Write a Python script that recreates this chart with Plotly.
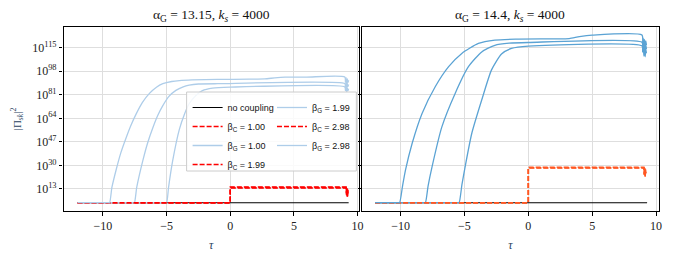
import plotly.graph_objects as go

# ---------------- data (tau, log10 |Pi_sk|^2) ----------------
tau_nc = [-12.0, 9.3]
lg_nc = [3.0, 3.0]

# left panel: alpha_G = 13.15
tauC_L = [-12.0, 0.0, 0.0, 9.1, 9.14, 9.17, 9.2, 9.23, 9.25]
lgC_L_100 = [3.0, 3.0, 13.6, 13.6, 9.0, 12.5, 7.5, 11.0, 9.0]
lgC_L_199 = [3.0, 3.0, 14.0, 14.0, 8.5, 13.0, 8.0, 12.0, 9.5]
lgC_L_298 = [3.0, 3.0, 14.4, 14.4, 10.0, 13.5, 7.4, 12.5, 10.0]

tauG_L_100 = [-12.0, -5.1, -5.0, -4.85, -4.53, -4.0, -3.6, -3.23, -2.7, -2.19, -1.4, 0.0, 9.0,
              9.05, 9.1, 9.15, 9.2, 9.25, 9.3]
lgG_L_100 = [3.0, 3.0, 3.0, 14.0, 33.0, 56.0, 67.0, 74.5, 80.5, 84.0, 85.8, 86.5, 86.7,
             84.0, 86.5, 83.0, 86.0, 84.0, 85.5]
tauG_L_199 = [-12.0, -7.63, -7.53, -7.35, -6.88, -6.5, -6.09, -5.7, -5.31, -4.8, -4.27, -3.7, -3.23,
              -2.5, -1.0, 9.0, 9.05, 9.1, 9.15, 9.2, 9.25, 9.3]
lgG_L_199 = [3.0, 3.0, 3.0, 14.0, 33.0, 46.0, 57.0, 66.0, 73.0, 80.0, 84.2, 86.8, 88.0,
             88.8, 89.0, 89.1, 87.0, 89.3, 86.0, 89.0, 87.0, 88.5]
tauG_L_298 = [-12.0, -9.58, -9.48, -9.3, -8.96, -8.6, -8.18, -7.8, -7.4, -6.9, -6.35, -5.8, -5.3,
              -4.6, -4.0, -3.0, -1.0, 1.5, 2.7, 3.5, 4.3, 6.0, 9.0,
              9.05, 9.1, 9.15, 9.2, 9.25, 9.3]
lgG_L_298 = [3.0, 3.0, 3.0, 14.0, 27.0, 39.0, 50.0, 59.0, 67.0, 75.5, 82.0, 86.5, 89.0,
             90.6, 91.3, 91.8, 92.1, 92.3, 92.5, 93.2, 93.7, 93.8, 93.8,
             90.0, 93.3, 88.0, 92.5, 90.0, 91.5]

# right panel: alpha_G = 14.4
tauC_R = [-12.0, 0.0, 0.0, 9.05, 9.08, 9.12, 9.15, 9.18, 9.2]
lgC_R_100 = [3.0, 3.0, 28.0, 28.0, 23.0, 27.0, 22.0, 26.0, 24.0]
lgC_R_199 = [3.0, 3.0, 28.3, 28.3, 24.0, 27.5, 22.5, 26.5, 24.5]
lgC_R_298 = [3.0, 3.0, 28.6, 28.6, 23.5, 28.0, 22.0, 27.0, 25.0]

tauG_R_100 = [-12.0, -5.52, -5.42, -5.2, -4.95, -4.43, -3.65, -2.88, -2.1, -1.32, 0.0, 8.9,
              8.95, 9.0, 9.05, 9.1, 9.15, 9.2, 9.25]
lgG_R_100 = [3.0, 3.0, 3.0, 16.0, 28.9, 53.0, 77.2, 99.0, 110.5, 114.5, 116.2, 116.4,
             112.0, 116.0, 109.0, 115.0, 108.5, 114.0, 111.0]
tauG_R_199 = [-12.0, -8.16, -8.06, -7.85, -7.54, -6.77, -5.73, -4.69, -3.65, -2.62, -1.5, 0.0, 8.9,
              8.95, 9.0, 9.05, 9.1, 9.15, 9.2, 9.25]
lgG_R_199 = [3.0, 3.0, 3.0, 15.0, 28.9, 57.8, 82.0, 101.3, 112.0, 116.8, 118.3, 118.8, 119.0,
             114.0, 119.0, 112.0, 118.0, 111.0, 117.0, 114.0]
tauG_R_298 = [-12.0, -10.18, -10.08, -9.85, -9.62, -9.1, -8.32, -7.29, -6.24, -5.21, -3.91, -2.62,
              -1.0, 2.0, 3.2, 4.0, 5.0, 8.9,
              8.95, 9.0, 9.05, 9.1, 9.15, 9.2, 9.25]
lgG_R_298 = [3.0, 3.0, 3.0, 15.0, 26.5, 45.8, 67.5, 86.8, 101.3, 110.9, 118.1, 120.5,
             121.2, 121.4, 121.6, 123.0, 124.1, 124.2,
             118.0, 122.0, 115.0, 121.0, 113.0, 120.0, 117.0]

ytick_exps = [13, 30, 47, 64, 81, 98, 115]
xtick_vals = [-10, -5, 0, 5, 10]
titles = ["α<sub>G</sub> = 13.15, <i>k<sub>s</sub></i> = 4000",
          "α<sub>G</sub> = 14.4, <i>k<sub>s</sub></i> = 4000"]
beta_labels = ["1.00", "1.99", "2.98"]

# ---------------- styles ----------------
W, H = 676, 257
SERIF = "Liberation Serif"
BLACK = "black"
RED_L = "#ff0000"
RED_R = "#ff5722"
BLUE_L = "#aecde9"
BLUE_R = "#5ba3d4"


def px(x):
    return x / W


def py(y):
    return 1 - y / H


def pw(v):
    return [10.0 ** e for e in v]


fig = go.Figure()

panels = [
    dict(xa="x", ya="y", red=RED_L, blue=BLUE_L, tauC=tauC_L,
         C=[lgC_L_100, lgC_L_199, lgC_L_298],
         G=[(tauG_L_100, lgG_L_100), (tauG_L_199, lgG_L_199), (tauG_L_298, lgG_L_298)],
         legend=True),
    dict(xa="x2", ya="y2", red=RED_R, blue=BLUE_R, tauC=tauC_R,
         C=[lgC_R_100, lgC_R_199, lgC_R_298],
         G=[(tauG_R_100, lgG_R_100), (tauG_R_199, lgG_R_199), (tauG_R_298, lgG_R_298)],
         legend=False),
]

for p in panels:
    fig.add_trace(go.Scatter(x=tau_nc, y=pw(lg_nc), mode="lines", xaxis=p["xa"], yaxis=p["ya"],
                             line=dict(color=BLACK, width=1.1), name="no coupling",
                             showlegend=p["legend"], legend="legend"))
    for i, b in enumerate(beta_labels):
        leg = "legend" if i == 0 else "legend2"
        legC = "legend" if i <= 1 else "legend2"
        fig.add_trace(go.Scatter(x=p["tauC"], y=pw(p["C"][i]), mode="lines",
                                 xaxis=p["xa"], yaxis=p["ya"],
                                 line=dict(color=p["red"], width=1.5, dash="5px,2px"),
                                 name="β<sub>C</sub> = " + b,
                                 showlegend=p["legend"], legend=legC))
        gt, gl = p["G"][i]
        fig.add_trace(go.Scatter(x=gt, y=pw(gl), mode="lines",
                                 xaxis=p["xa"], yaxis=p["ya"],
                                 line=dict(color=p["blue"], width=1.3, shape="spline",
                                           smoothing=0.6),
                                 name="β<sub>G</sub> = " + b,
                                 showlegend=p["legend"], legend=leg))

axis_common = dict(showline=True, mirror=True, linecolor=BLACK, linewidth=1.2,
                   ticks="outside", ticklen=3.5, tickwidth=1, tickcolor=BLACK,
                   showgrid=True, gridcolor="#dedede", gridwidth=0.8, zeroline=False,
                   tickfont=dict(family=SERIF, size=12, color="#222"))

ytickvals = [10.0 ** e for e in ytick_exps]
yticktext = ["10<sup>%d</sup>" % e for e in ytick_exps]

fig.update_layout(
    width=W, height=H, autosize=False,
    margin=dict(l=0, r=0, t=0, b=0),
    paper_bgcolor="white", plot_bgcolor="white",
    xaxis=dict(domain=[px(64), px(361.5)], range=[-13.1, 10.1], tickvals=xtick_vals,
               title=dict(text="<i>τ</i>", font=dict(family=SERIF, size=12), standoff=8),
               anchor="y", **axis_common),
    yaxis=dict(domain=[py(211), py(27)], type="log", range=[-3, 130],
               tickvals=ytickvals, ticktext=yticktext, anchor="x",
               title=dict(text="|Π<sub><i>sk</i></sub>|<sup>2</sup>",
                          font=dict(family=SERIF, size=11), standoff=8),
               **axis_common),
    xaxis2=dict(domain=[px(365), px(663.5)], range=[-13.0, 10.2], tickvals=xtick_vals,
                title=dict(text="<i>τ</i>", font=dict(family=SERIF, size=12), standoff=8),
                anchor="y2", **axis_common),
    yaxis2=dict(domain=[py(211), py(27)], type="log", range=[-3, 130],
                tickvals=ytickvals, showticklabels=False, anchor="x2",
                **axis_common),
    legend=dict(x=px(189), y=py(93), xanchor="left", yanchor="top",
                bgcolor="rgba(0,0,0,0)", borderwidth=0,
                font=dict(family="Liberation Sans", size=9, color="#111"),
                itemwidth=30, tracegroupgap=0),
    legend2=dict(x=px(274), y=py(93), xanchor="left", yanchor="top",
                 bgcolor="rgba(0,0,0,0)", borderwidth=0,
                 font=dict(family="Liberation Sans", size=9, color="#111"),
                 itemwidth=30, tracegroupgap=0),
    shapes=[dict(type="rect", xref="paper", yref="paper", x0=px(188), x1=px(359),
                 y0=py(171), y1=py(92), line=dict(color="#cccccc", width=1),
                 fillcolor="rgba(255,255,255,0.85)", layer="above")],
    annotations=[
        dict(text=titles[0], x=(px(64) + px(361.5)) / 2, y=py(15), xref="paper", yref="paper",
             xanchor="center", yanchor="middle",
             showarrow=False, font=dict(family=SERIF, size=13.5, color="#111")),
        dict(text=titles[1], x=(px(365) + px(663.5)) / 2, y=py(15), xref="paper", yref="paper",
             xanchor="center", yanchor="middle",
             showarrow=False, font=dict(family=SERIF, size=13.5, color="#111")),
    ],
)

fig.write_html("out.html", config={"displayModeBar": False},
               post_script="document.body.style.margin='0';document.body.style.overflow='hidden';")
